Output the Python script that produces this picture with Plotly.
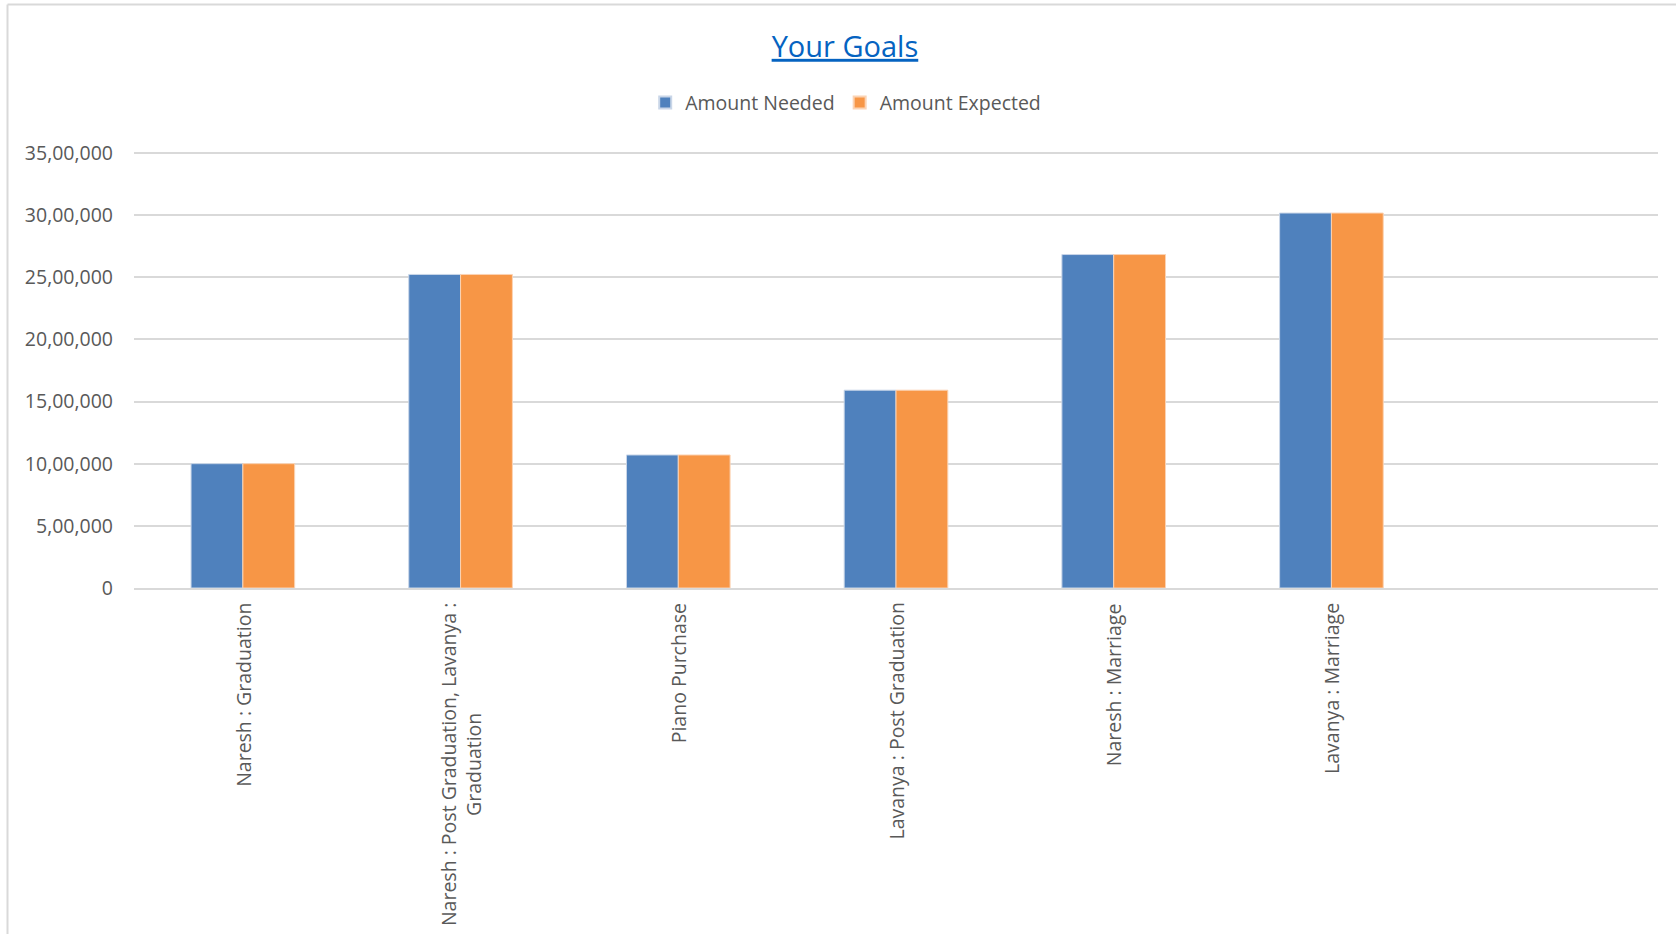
import plotly.graph_objects as go

# Goals and the amounts needed / expected for each (INR)
goals = [
    "Naresh : Graduation",
    "Naresh : Post Graduation, Lavanya :<br>Graduation",
    "Piano Purchase",
    "Lavanya : Post Graduation",
    "Naresh : Marriage",
    "Lavanya : Marriage",
]
amount_needed = [1000000, 2522000, 1070000, 1591000, 2682000, 3016000]
amount_expected = [1000000, 2522000, 1070000, 1591000, 2682000, 3016000]

y_ticks = [0, 500000, 1000000, 1500000, 2000000, 2500000, 3000000, 3500000]
y_tick_labels = ["0", "5,00,000", "10,00,000", "15,00,000", "20,00,000",
                 "25,00,000", "30,00,000", "35,00,000"]

BLUE = "#4F81BD"
ORANGE = "#F79646"
GRID = "#D9D9D9"
TEXT = "#595959"
FONT = "Open Sans"
FS = 19.5

positions = list(range(len(goals)))

fig = go.Figure()
fig.add_trace(go.Bar(
    name="Amount Needed", x=positions, y=amount_needed,
    marker=dict(color=BLUE, line=dict(color="#C9D6E8", width=1)),
))
fig.add_trace(go.Bar(
    name="Amount Expected", x=positions, y=amount_expected,
    marker=dict(color=ORANGE, line=dict(color="#FBD3B4", width=1)),
))

fig.update_layout(
    width=1676, height=934,
    margin=dict(l=134, r=18, t=151, b=346, autoexpand=False),
    paper_bgcolor="white", plot_bgcolor="white",
    font=dict(family=FONT, color=TEXT, size=FS),
    barmode="group", bargap=0.524, bargroupgap=0,
    title=dict(
        text="<u>Your Goals</u>",
        font=dict(family=FONT, size=29, color="#0563C1"),
        x=0.4665, xanchor="center", xref="paper",
        y=0.95, yanchor="middle", yref="container",
    ),
    legend=dict(
        orientation="h", x=0.467, xanchor="center", y=1.11, yanchor="middle",
        font=dict(family=FONT, size=FS, color=TEXT),
        itemsizing="constant", traceorder="normal",
        itemwidth=30,
    ),
    showlegend=True,
)

fig.update_xaxes(
    range=[-0.5, 6.5], automargin=False,
    tickmode="array", tickvals=positions, showticklabels=False,
    ticks="", showgrid=False,
    showline=True, linecolor=GRID, linewidth=2,
)
fig.update_yaxes(
    range=[0, 3515000], automargin=False,
    tickmode="array", tickvals=y_ticks, ticktext=y_tick_labels,
    showgrid=True, gridcolor=GRID, gridwidth=2,
    zeroline=False, showline=False, ticks="",
    ticklabelstandoff=20,
    tickfont=dict(family=FONT, size=FS, color=TEXT),
)

# Category labels, rotated and centred under each group
for pos, label in zip(positions, goals):
    fig.add_annotation(
        x=pos, xref="x", y=0, yref="paper",
        text=label, textangle=-90, showarrow=False,
        xanchor="center", yanchor="top", align="center",
        yshift=-13,
        font=dict(family=FONT, size=FS, color=TEXT),
    )

# Chart frame edges (top and left)
fig.add_shape(type="line", xref="paper", yref="paper",
              x0=-0.083, x1=1.02, y0=1.335, y1=1.335,
              line=dict(color=GRID, width=2))
fig.add_shape(type="line", xref="paper", yref="paper",
              x0=-0.083, x1=-0.083, y0=1.335, y1=-0.9,
              line=dict(color=GRID, width=2))

fig.write_html("out.html")
